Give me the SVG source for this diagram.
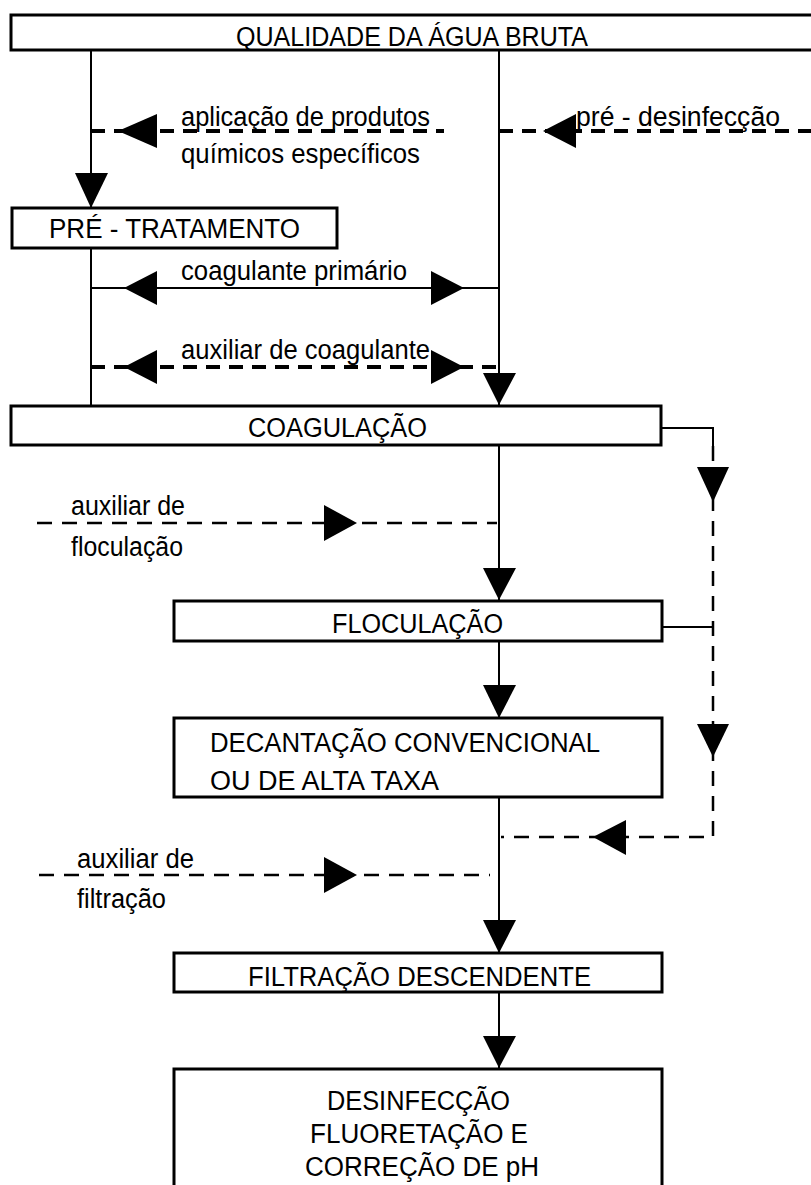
<svg xmlns="http://www.w3.org/2000/svg" width="811" height="1185" viewBox="0 0 811 1185">
  <style>
    .box { fill: #fff; stroke: #000; stroke-width: 3; }
    .t { font-family: "Liberation Sans", Arial, sans-serif; font-size: 27px; fill: #000; }
    .solid { fill: none; stroke: #000; stroke-width: 2; }
    .dash-bold { fill: none; stroke: #000; stroke-width: 4; stroke-dasharray: 14 9; }
    .dash { fill: none; stroke: #000; stroke-width: 2.5; stroke-dasharray: 15 10; }
    .head { fill: #000; stroke: none; }
  </style>
  <rect x="0" y="0" width="811" height="1185" fill="#fff"/>

  <!-- connectors -->
  <g id="connectors">
    <!-- raw water to pre-treatment / coagulation -->
    <path class="solid" d="M91,51 V208"/>
    <polygon class="head" points="75,173 108,173 91,208"/>
    <path class="solid" d="M499,51 V405"/>
    <polygon class="head" points="483,373 516,373 499,405"/>

    <!-- specific chemicals -->
    <path class="dash-bold" d="M91,131 H444"/>
    <polygon class="head" points="118,131 157,114 157,148"/>

    <!-- pre-disinfection -->
    <path class="dash-bold" d="M499,131 H812"/>
    <polygon class="head" points="543,131 576,114 576,148"/>

    <!-- pre-treatment to coagulation -->
    <path class="solid" d="M91,248 V406"/>

    <!-- primary coagulant -->
    <path class="solid" d="M91,288 H499"/>
    <polygon class="head" points="124,288 157,271 157,305"/>
    <polygon class="head" points="464,288 431,271 431,305"/>

    <!-- coagulant aid -->
    <path class="dash-bold" d="M91,367 H499"/>
    <polygon class="head" points="124,367 157,350 157,384"/>
    <polygon class="head" points="464,367 431,350 431,384"/>

    <!-- coagulation to flocculation -->
    <path class="solid" d="M499,445 V600"/>
    <polygon class="head" points="483,568 516,568 499,600"/>

    <!-- flocculation aid -->
    <path class="dash" d="M37,523 H497"/>
    <polygon class="head" points="357,523 324,505 324,541"/>

    <!-- flocculation to settling -->
    <path class="solid" d="M499,641 V718"/>
    <polygon class="head" points="483,685 516,685 499,718"/>

    <!-- settling to filtration -->
    <path class="solid" d="M499,797 V953"/>
    <polygon class="head" points="483,920 516,920 499,953"/>

    <!-- filtration aid -->
    <path class="dash" d="M39,875 H490"/>
    <polygon class="head" points="357,875 324,857 324,893"/>

    <!-- filtration to disinfection -->
    <path class="solid" d="M499,992 V1068"/>
    <polygon class="head" points="483,1036 516,1036 499,1068"/>

    <!-- bypass on the right -->
    <path class="solid" d="M661,428 H713 V446"/>
    <path class="solid" d="M662,627 H713"/>
    <path class="dash" d="M713,446 V837 H501"/>
    <polygon class="head" points="697,467 729,467 713,502"/>
    <polygon class="head" points="697,724 729,724 713,757"/>
    <polygon class="head" points="593,837 626,820 626,855"/>
  </g>

  <!-- labels on connectors -->
  <g id="labels">
    <text class="t" x="181" y="126" textLength="249" lengthAdjust="spacingAndGlyphs">aplicação de produtos</text>
    <text class="t" x="181" y="163" textLength="239" lengthAdjust="spacingAndGlyphs">químicos específicos</text>
    <text class="t" x="576" y="126" textLength="204" lengthAdjust="spacingAndGlyphs">pré - desinfecção</text>
    <text class="t" x="181" y="280" textLength="226" lengthAdjust="spacingAndGlyphs">coagulante primário</text>
    <text class="t" x="181" y="359" textLength="249" lengthAdjust="spacingAndGlyphs">auxiliar de coagulante</text>
    <text class="t" x="71" y="515" textLength="114" lengthAdjust="spacingAndGlyphs">auxiliar de</text>
    <text class="t" x="71" y="556" textLength="112" lengthAdjust="spacingAndGlyphs">floculação</text>
    <text class="t" x="77" y="868" textLength="117" lengthAdjust="spacingAndGlyphs">auxiliar de</text>
    <text class="t" x="77" y="908" textLength="89" lengthAdjust="spacingAndGlyphs">filtração</text>
  </g>

  <!-- process steps -->
  <g id="agua-bruta">
    <rect class="box" x="11" y="15" width="805" height="35"/>
    <text class="t" x="236" y="46" textLength="352" lengthAdjust="spacingAndGlyphs">QUALIDADE DA ÁGUA BRUTA</text>
  </g>
  <g id="pre-tratamento">
    <rect class="box" x="12" y="208" width="325" height="40"/>
    <text class="t" x="49" y="238" textLength="251" lengthAdjust="spacingAndGlyphs">PRÉ - TRATAMENTO</text>
  </g>
  <g id="coagulacao">
    <rect class="box" x="11" y="406" width="650" height="39"/>
    <text class="t" x="248" y="437" textLength="179" lengthAdjust="spacingAndGlyphs">COAGULAÇÃO</text>
  </g>
  <g id="floculacao">
    <rect class="box" x="174" y="601" width="488" height="40"/>
    <text class="t" x="332" y="633" textLength="171" lengthAdjust="spacingAndGlyphs">FLOCULAÇÃO</text>
  </g>
  <g id="decantacao">
    <rect class="box" x="174" y="718" width="488" height="79"/>
    <text class="t" x="210" y="752" textLength="390" lengthAdjust="spacingAndGlyphs">DECANTAÇÃO CONVENCIONAL</text>
    <text class="t" x="210" y="790" textLength="229" lengthAdjust="spacingAndGlyphs">OU DE ALTA TAXA</text>
  </g>
  <g id="filtracao">
    <rect class="box" x="174" y="953" width="488" height="39"/>
    <text class="t" x="248" y="986" textLength="343" lengthAdjust="spacingAndGlyphs">FILTRAÇÃO DESCENDENTE</text>
  </g>
  <g id="desinfeccao">
    <rect class="box" x="174" y="1069" width="488" height="130"/>
    <text class="t" x="327" y="1110" textLength="183" lengthAdjust="spacingAndGlyphs">DESINFECÇÃO</text>
    <text class="t" x="310" y="1143" textLength="218" lengthAdjust="spacingAndGlyphs">FLUORETAÇÃO E</text>
    <text class="t" x="305" y="1176" textLength="234" lengthAdjust="spacingAndGlyphs">CORREÇÃO DE pH</text>
  </g>
</svg>
